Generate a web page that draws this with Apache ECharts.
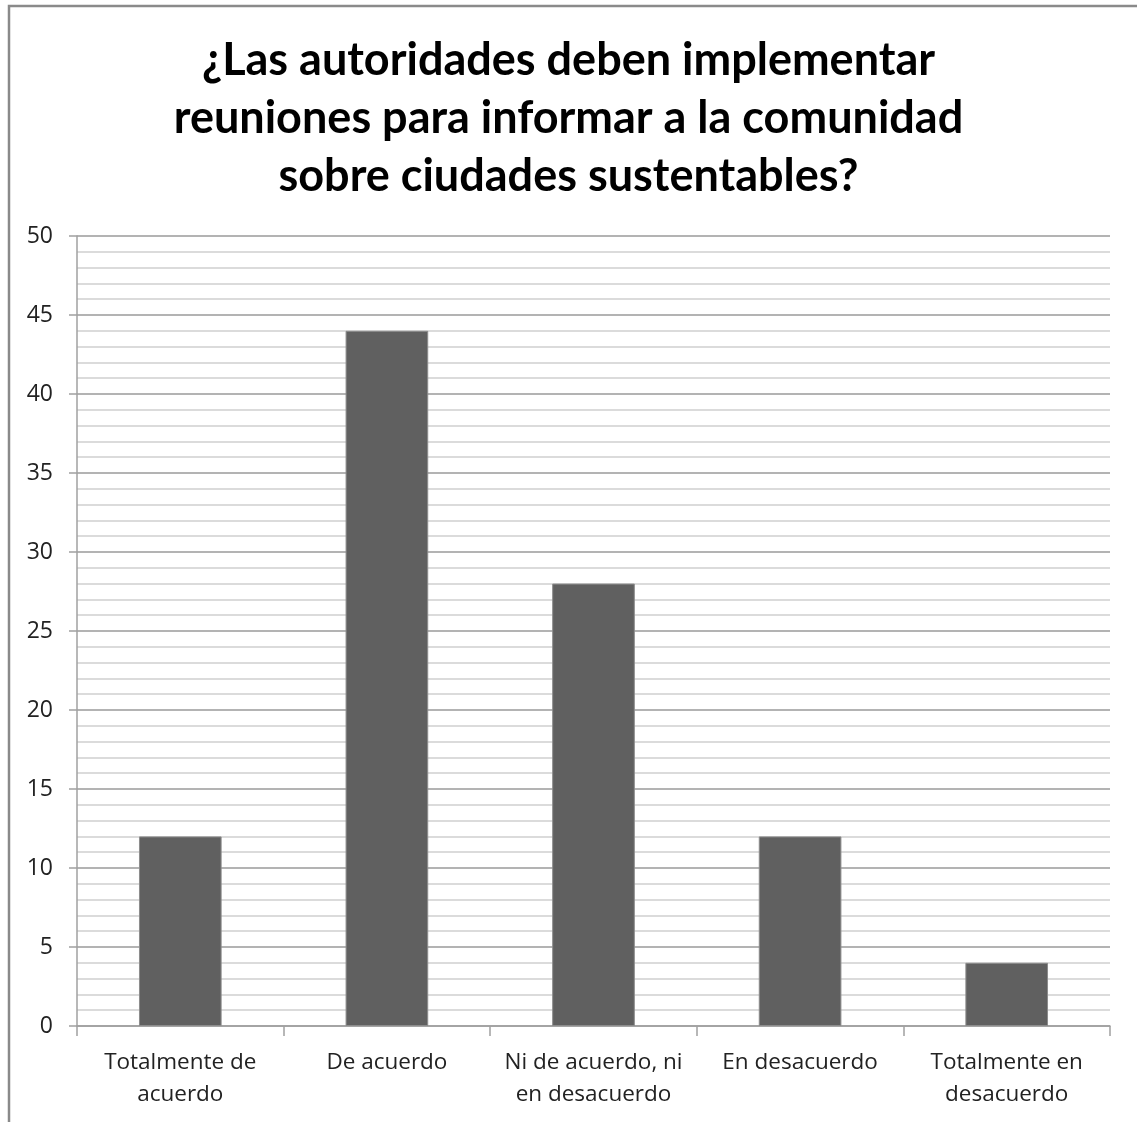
<!DOCTYPE html>
<html>
<head>
<meta charset="utf-8">
<style>
  html, body { margin: 0; padding: 0; background: #fff; }
  #chart { width: 1137px; height: 1122px; }
</style>
<script src="https://cdn.jsdelivr.net/npm/echarts@6/dist/echarts.min.js"></script>
</head>
<body>
<div id="chart"></div>
<script>
// Survey answers and counts
const categories = [
  'Totalmente de\nacuerdo',
  'De acuerdo',
  'Ni de acuerdo, ni\nen desacuerdo',
  'En desacuerdo',
  'Totalmente en\ndesacuerdo'
];
const counts = [12, 44, 28, 12, 4];
const titleLines = [
  '¿Las autoridades deben implementar',
  'reuniones para informar a la comunidad',
  'sobre ciudades sustentables?'
];

const chart = echarts.init(document.getElementById('chart'), null, { renderer: 'canvas' });

chart.setOption({
  backgroundColor: '#ffffff',
  animation: false,
  title: {
    text: titleLines.join('\n'),
    left: 'center',
    top: 26,
    textStyle: {
      fontFamily: 'Lato',
      fontWeight: 'bold',
      fontSize: 45,
      lineHeight: 58,
      color: '#000'
    }
  },
  graphic: [{
    type: 'rect',
    shape: { x: 9, y: 6, width: 1200, height: 1200 },
    style: { fill: 'none', stroke: '#8a8a8a', lineWidth: 2.5 },
    silent: true,
    z: 100
  }],
  grid: { left: 77, right: 27, top: 236, bottom: 96 },
  xAxis: {
    type: 'category',
    data: categories,
    axisLine: { lineStyle: { color: '#a0a0a0', width: 1.5 } },
    axisTick: { show: true, length: 10, lineStyle: { color: '#a0a0a0', width: 1.5 } },
    axisLabel: {
      fontFamily: 'Open Sans',
      fontSize: 22.5,
      lineHeight: 32,
      color: '#222',
      margin: 21,
      interval: 0
    }
  },
  yAxis: {
    type: 'value',
    min: 0,
    max: 50,
    interval: 5,
    axisLine: { show: true, lineStyle: { color: '#a0a0a0', width: 1.5 } },
    axisTick: { show: true, length: 8, lineStyle: { color: '#a0a0a0', width: 1.5 } },
    axisLabel: {
      fontFamily: 'Open Sans',
      fontSize: 23,
      color: '#222',
      margin: 24
    },
    splitLine: { lineStyle: { color: '#9a9a9a', width: 1.5 } },
    minorTick: { show: false, splitNumber: 5 },
    minorSplitLine: { show: true, lineStyle: { color: '#cfcfcf', width: 1.5 } }
  },
  series: [{
    type: 'bar',
    data: counts,
    barWidth: '40%',
    itemStyle: { color: '#606060', borderColor: '#8c8c8c', borderWidth: 1 }
  }]
});
</script>
</body>
</html>
